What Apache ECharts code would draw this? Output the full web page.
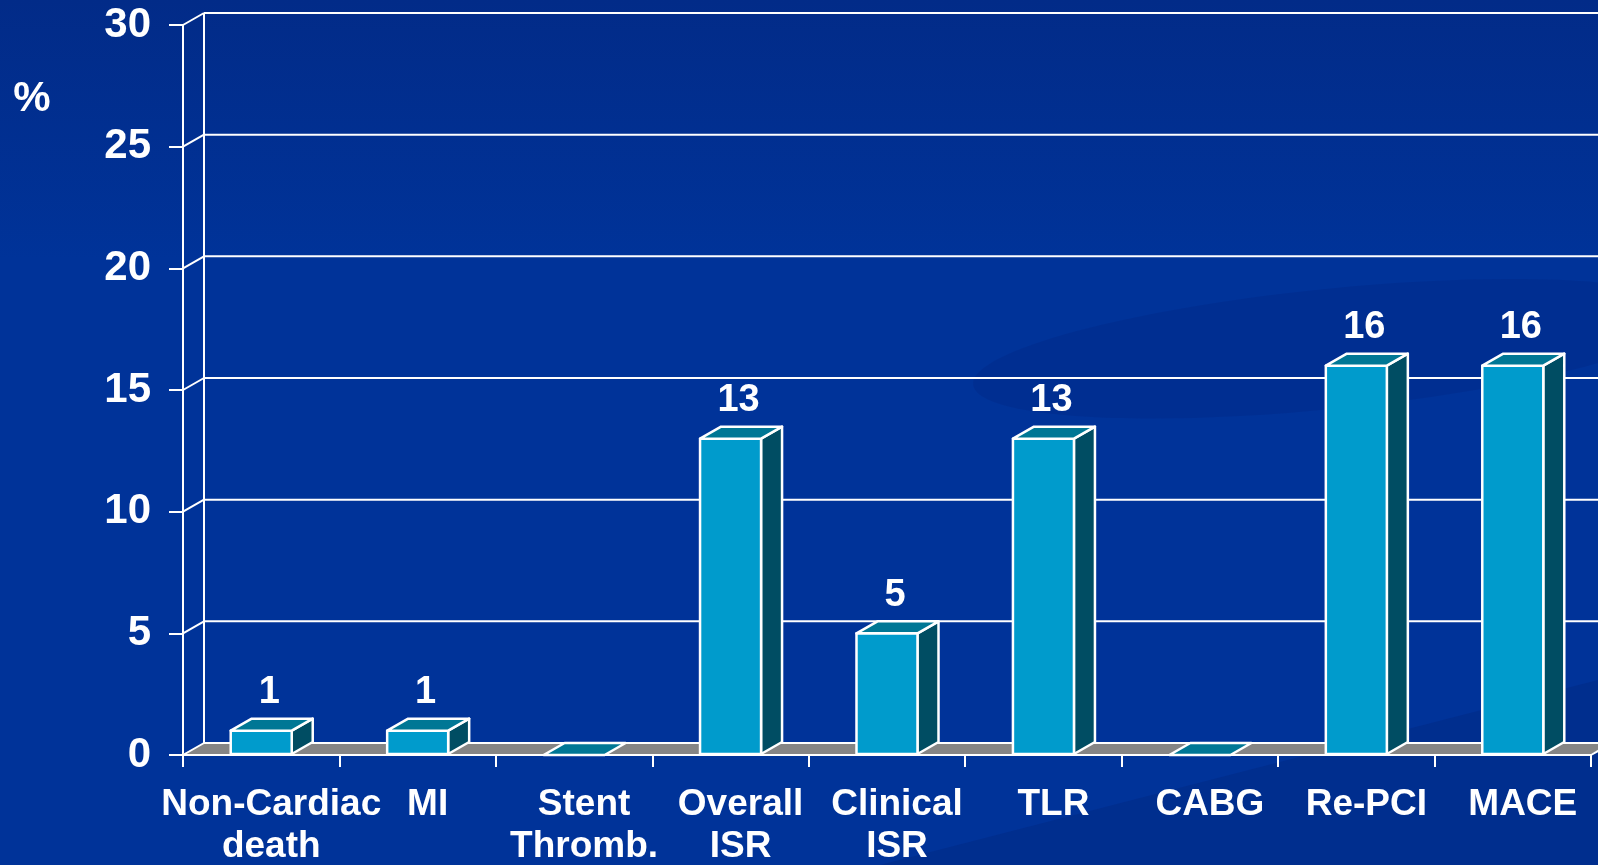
<!DOCTYPE html>
<html>
<head>
<meta charset="utf-8">
<script src="https://cdn.jsdelivr.net/npm/echarts@6/dist/echarts.min.js"></script>
<style>
  html, body { margin: 0; padding: 0; }
  #chart { width: 1598px; height: 865px; }
</style>
</head>
<body>
<div id="chart"></div>
<script>
const categories = ['Non-Cardiac\ndeath', 'MI', 'Stent\nThromb.', 'Overall\nISR', 'Clinical\nISR', 'TLR', 'CABG', 'Re-PCI', 'MACE'];
const values = [1, 1, 0, 13, 5, 13, 0, 16, 16];
const yTicks = [0, 5, 10, 15, 20, 25, 30];

const FONT = '"Liberation Sans", Arial, sans-serif';
const DX = 21, DY = -12;          // depth of the fake 3D
const FRONT = '#009bcc', TOP = '#007795', SIDE = '#004d63', FLOOR = '#858585';

const chart = echarts.init(document.getElementById('chart'));

function renderWall(params, api) {
    const cs = params.coordSys;
    const v = api.value(1);
    const y = api.coord([0, v])[1];
    const x0 = cs.x, x1 = cs.x + cs.width;
    const line = { stroke: '#fff', lineWidth: 2 };
    const children = [];
    if (v === 0) {
        children.push({
            type: 'polygon',
            shape: { points: [[x0, y - 1], [x1, y - 1], [x1 + DX, y + DY], [x0 + DX, y + DY]] },
            style: { fill: FLOOR }
        });
        children.push({ type: 'line', shape: { x1: x1, y1: y, x2: x1 + DX, y2: y + DY }, style: line });
        // back wall left edge
        children.push({ type: 'line', shape: { x1: x0 + DX, y1: cs.y + DY, x2: x0 + DX, y2: y + DY }, style: line });
    }
    children.push({ type: 'line', shape: { x1: x0, y1: y, x2: x0 + DX, y2: y + DY }, style: line });
    children.push({ type: 'line', shape: { x1: x0 + DX, y1: y + DY, x2: x1 + DX, y2: y + DY }, style: line });
    return { type: 'group', children };
}

function renderBar(params, api) {
    const i = api.value(0), v = api.value(1);
    const [cx, yt] = api.coord([i, v]);
    const y0 = api.coord([i, 0])[1] - 1;
    const bw = api.size([1, 0])[0] * 0.39;
    const l = cx - bw / 2, r = cx + bw / 2;
    const edge = { stroke: '#fff', lineWidth: 2.5, lineJoin: 'round' };
    const children = [];
    if (v > 0) {
        children.push({
            type: 'polygon',
            shape: { points: [[r, yt], [r + DX, yt + DY], [r + DX, y0 + DY], [r, y0]] },
            style: Object.assign({ fill: SIDE }, edge)
        });
        children.push({
            type: 'rect',
            shape: { x: l, y: yt, width: bw, height: y0 - yt },
            style: Object.assign({ fill: FRONT }, edge)
        });
    }
    children.push({
        type: 'polygon',
        shape: { points: [[l, yt], [r, yt], [r + DX, yt + DY], [l + DX, yt + DY]] },
        style: Object.assign({ fill: TOP }, edge)
    });
    if (v > 0) {
        children.push({
            type: 'text',
            x: cx + 8, y: yt - 38,
            style: {
                text: String(v), fill: '#fff', align: 'center', verticalAlign: 'middle',
                fontSize: 38, fontWeight: 'bold', fontFamily: FONT
            }
        });
    }
    return { type: 'group', children };
}

chart.setOption({
    animation: false,
    backgroundColor: {
        type: 'linear', x: 0, y: 0, x2: 0, y2: 1,
        colorStops: [
            { offset: 0, color: '#022b88' },
            { offset: 0.3, color: '#003399' },
            { offset: 1, color: '#003399' }
        ]
    },
    graphic: [
        {
            type: 'ellipse', z: -10, silent: true,
            shape: { cx: 1290, cy: 480, rx: 360, ry: 60 }, rotation: 0.1,
            style: { fill: 'rgba(0,30,110,0.18)' }
        },
        {
            type: 'polygon', z: -10, silent: true,
            shape: { points: [[880, 865], [1598, 680], [1598, 865]] },
            style: { fill: 'rgba(0,30,110,0.25)' }
        },
        {
            type: 'text', x: 32, y: 99,
            style: {
                text: '%', fill: '#fff', align: 'center', verticalAlign: 'middle',
                fontSize: 42, fontWeight: 'bold', fontFamily: FONT
            }
        }
    ],
    grid: { left: 183, right: 7, top: 25, bottom: 110, containLabel: false, outerBoundsMode: 'none' },
    xAxis: {
        type: 'category',
        data: categories,
        axisLine: { lineStyle: { color: '#fff', width: 2 } },
        axisTick: { show: true, interval: 0, length: 12, lineStyle: { color: '#fff', width: 2 } },
        axisLabel: {
            interval: 0, margin: 29, color: '#fff', fontSize: 37, fontWeight: 'bold',
            fontFamily: FONT, lineHeight: 42, padding: [0, 0, 0, 20]
        },
        splitLine: { show: false }
    },
    yAxis: {
        type: 'value',
        min: 0, max: 30, interval: 5,
        axisLine: { show: true, lineStyle: { color: '#fff', width: 2 } },
        axisTick: { show: true, length: 14, lineStyle: { color: '#fff', width: 2 } },
        axisLabel: { margin: 32, color: '#fff', fontSize: 42, fontWeight: 'bold', fontFamily: FONT },
        splitLine: { show: false }
    },
    series: [
        {
            type: 'custom', name: 'walls', z: 1, silent: true,
            renderItem: renderWall,
            data: yTicks.map(v => [0, v]),
            encode: { x: 0, y: 1 }
        },
        {
            type: 'custom', name: 'bars', z: 3, silent: true,
            renderItem: renderBar,
            data: values.map((v, i) => [i, v]),
            encode: { x: 0, y: 1 }
        }
    ]
});
</script>
</body>
</html>
